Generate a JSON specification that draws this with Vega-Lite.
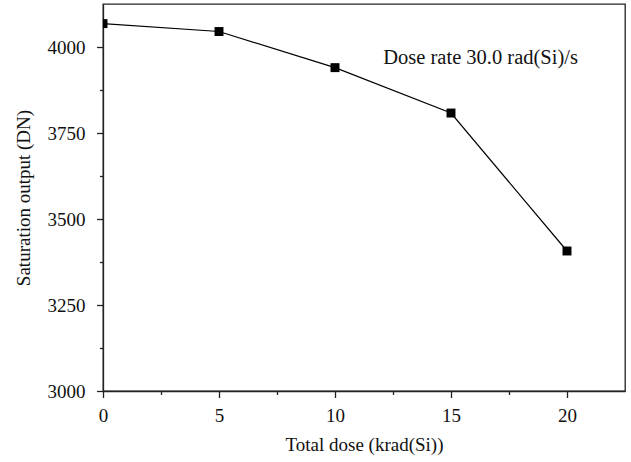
{
  "$schema": "https://vega.github.io/schema/vega-lite/v6.json",
  "width": 522,
  "height": 387,
  "autosize": "none",
  "padding": {"left": 103, "top": 4, "right": 7, "bottom": 71},
  "background": "white",
  "config": {
    "font": "Liberation Serif",
    "view": {"stroke": "#222", "strokeWidth": 1.3},
    "axis": {
      "grid": false,
      "domainColor": "#222",
      "domainWidth": 1.3,
      "tickColor": "#222",
      "tickWidth": 1.3,
      "labelFont": "Liberation Serif",
      "titleFont": "Liberation Serif",
      "labelFontSize": 19,
      "titleFontSize": 19,
      "labelColor": "#111",
      "titleColor": "#111",
      "titleFontWeight": "normal"
    }
  },
  "layer": [
    {
      "data": {"values": [
        {"dose": 0, "output": 4068},
        {"dose": 5, "output": 4045},
        {"dose": 10, "output": 3940},
        {"dose": 15, "output": 3808},
        {"dose": 20, "output": 3407}
      ]},
      "mark": {"type": "line", "color": "#000", "strokeWidth": 1.2, "clip": true},
      "encoding": {
        "x": {"field": "dose", "type": "quantitative", "scale": {"domain": [0, 22.5], "nice": false},
          "axis": {"orient": "bottom", "title": "Total dose (krad(Si))", "format": "d", "values": [0, 5, 10, 15, 20], "tickSize": 6.5, "labelPadding": 8.5, "titlePadding": 10.5, "labelFlush": false}},
        "y": {"field": "output", "type": "quantitative", "scale": {"domain": [3000, 4125], "nice": false, "zero": false},
          "axis": {"orient": "left", "title": "Saturation output (DN)", "format": "d", "values": [3000, 3250, 3500, 3750, 4000], "tickSize": 6.5, "labelPadding": 11.5, "titlePadding": 13.5, "labelFlush": false}}
      }
    },
    {
      "data": {"values": [
        {"dose": 0, "output": 4068},
        {"dose": 5, "output": 4045},
        {"dose": 10, "output": 3940},
        {"dose": 15, "output": 3808},
        {"dose": 20, "output": 3407}
      ]},
      "mark": {"type": "point", "shape": "square", "filled": true, "color": "#000", "size": 80, "opacity": 1, "clip": true},
      "encoding": {
        "x": {"field": "dose", "type": "quantitative",
          "axis": {"orient": "bottom", "title": null, "labels": false, "domain": false, "values": [2.5, 7.5, 12.5, 17.5], "tickSize": 3.5}},
        "y": {"field": "output", "type": "quantitative",
          "axis": {"orient": "left", "title": null, "labels": false, "domain": false, "values": [3125, 3375, 3625, 3875], "tickSize": 3.5}}
      }
    },
    {
      "data": {"values": [{"dose": 12.08, "output": 3967, "label": "Dose rate 30.0 rad(Si)/s"}]},
      "mark": {"type": "text", "align": "left", "baseline": "middle", "fontSize": 20.5, "font": "Liberation Serif", "color": "#111"},
      "encoding": {
        "x": {"field": "dose", "type": "quantitative", "axis": null},
        "y": {"field": "output", "type": "quantitative", "axis": null},
        "text": {"field": "label"}
      }
    }
  ],
  "resolve": {"axis": {"x": "independent", "y": "independent"}}
}
